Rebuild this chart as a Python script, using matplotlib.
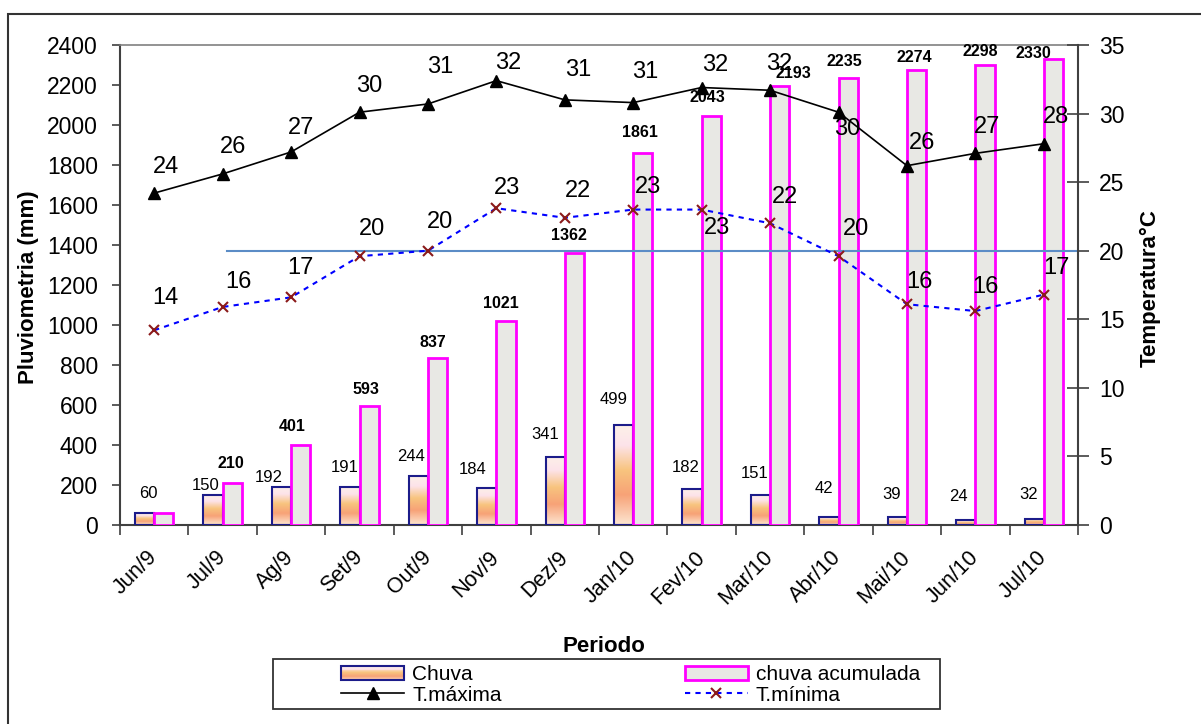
import numpy as np
import matplotlib
matplotlib.use('Agg')
import matplotlib.pyplot as plt
from matplotlib.colors import LinearSegmentedColormap
from matplotlib.patches import Rectangle
from matplotlib.lines import Line2D
from matplotlib.legend_handler import HandlerBase

plt.rcParams['font.family'] = ['Liberation Sans', 'DejaVu Sans']

# ---------------- data ----------------
periodos = ['Jun/9', 'Jul/9', 'Ag/9', 'Set/9', 'Out/9', 'Nov/9', 'Dez/9',
            'Jan/10', 'Fev/10', 'Mar/10', 'Abr/10', 'Mai/10', 'Jun/10', 'Jul/10']
chuva = [60, 150, 192, 191, 244, 184, 341, 499, 182, 151, 42, 39, 24, 32]
chuva_acumulada = [60, 210, 401, 593, 837, 1021, 1362, 1861, 2043, 2193,
                   2235, 2274, 2298, 2330]
t_maxima = [24.2, 25.6, 27.2, 30.1, 30.7, 32.4, 31.0, 30.8, 31.9, 31.7,
            30.1, 26.2, 27.1, 27.8]
t_minima = [14.2, 15.9, 16.6, 19.6, 20.0, 23.1, 22.4, 23.0, 23.0, 22.0,
            19.6, 16.1, 15.6, 16.8]
temp_referencia = 20
ref_inicio = 1.06   # category index where the reference line starts

left_ticks = list(range(0, 2401, 200))
right_ticks = list(range(0, 36, 5))

# ---------------- label offsets (pixels) ----------------
chuva_dx = [4, -7, -13, -5, -7, -14, -10, -10, -6, -6, -5, -6, -7, -6]
chuva_dy = [19, 10, 9, 19, 20, 19, 22, 26, 21, 21, 28, 23, 24, 24]
acum_dx = [0, -1, -8, -3, -5, -5, -5, -3, -4, 14, -4, -2, -5, -20]
acum_dy = [0, 20, 18, 17, 15, 17, 17, 20, 19, 13, 16, 13, 14, 6]
tmax_dx = [12, 10, 10, 10, 12, 12, 13, 12, 14, 9, 9, 15, 12, 12]
tmax_dy = [26, 27, 24, 26, 37, 18, 30, 31, 23, 26, -17, 23, 26, 27]
tmin_dx = [11, 16, 9, 12, 12, 11, 13, 15, 15, 15, 18, 13, 10, 13]
tmin_dy = [32, 25, 29, 27, 29, 20, 27, 23, -18, 26, 27, 22, 24, 27]

W, H = 1201, 724
fig = plt.figure(figsize=(W / 100, H / 100), dpi=100)
fig.patch.set_facecolor('white')

ax = fig.add_axes([120 / W, 1 - 525 / H, (1078 - 120) / W, (525 - 45) / H])
ax2 = ax.twinx()

x = np.arange(len(periodos))
bw = 0.28
navy = '#1c1c8a'
magenta = '#ff00ff'

grad_cmap = LinearSegmentedColormap.from_list(
    'chuva', [(0.0, '#fde6d2'), (0.3, '#f7a277'), (0.55, '#f8c47e'),
              (0.8, '#fde3ea'), (1.0, '#fcf0e8')])

# rain bars (gradient fill)
bars_c = ax.bar(x, chuva, width=bw, align='edge', facecolor='none',
                edgecolor=navy, linewidth=1.5, zorder=3)
grad = np.linspace(0, 1, 128).reshape(-1, 1)
for b in bars_c:
    b.set_x(b.get_x() - bw)
for b in bars_c:
    x0 = b.get_x()
    ax.imshow(grad, extent=[x0, x0 + bw, 0, b.get_height()], origin='lower',
              aspect='auto', cmap=grad_cmap, zorder=2, interpolation='bilinear')

# accumulated bars
bars_a = ax.bar(x, chuva_acumulada, width=bw, align='edge', facecolor='#e8e8e4',
                edgecolor=magenta, linewidth=2, zorder=3)

ax.set_xlim(-0.5, len(periodos) - 0.5)
ax.set_ylim(0, 2400)
ax.set_aspect('auto')

# bar labels
for b, v, dx, dy in zip(bars_c, chuva, chuva_dx, chuva_dy):
    ax.annotate(f'{v}', (b.get_x() + bw / 2, v), xytext=(dx, dy),
                textcoords='offset pixels', ha='center', va='center',
                fontsize=12, zorder=5)
for i, (b, v, dx, dy) in enumerate(zip(bars_a, chuva_acumulada, acum_dx, acum_dy)):
    if i == 0:
        continue
    ax.annotate(f'{v}', (b.get_x() + bw / 2, v), xytext=(dx, dy),
                textcoords='offset pixels', ha='center', va='center',
                fontsize=11.5, fontweight='bold', zorder=5)

# temperature lines
ax2.plot([ref_inicio, len(periodos) - 0.5], [temp_referencia, temp_referencia],
         color='#5b8cc6', lw=1.5, zorder=2)
ax2.plot(x, t_maxima, color='black', lw=1.2, marker='^', markersize=8,
         markerfacecolor='black', zorder=4)
ax2.plot(x, t_minima, color='#0000ff', lw=1.5, linestyle=(0, (2.5, 2.5)),
         marker='x', markersize=7, markeredgecolor='#8b1a1a',
         markeredgewidth=1.5, zorder=4)
ax2.set_ylim(0, 35)
ax2.set_xlim(-0.5, len(periodos) - 0.5)

for xi, v, dx, dy in zip(x, t_maxima, tmax_dx, tmax_dy):
    ax2.annotate(f'{v:.0f}', (xi, v), xytext=(dx, dy), textcoords='offset pixels',
                 ha='center', va='center', fontsize=17, zorder=6)
for xi, v, dx, dy in zip(x, t_minima, tmin_dx, tmin_dy):
    ax2.annotate(f'{v:.0f}', (xi, v), xytext=(dx, dy), textcoords='offset pixels',
                 ha='center', va='center', fontsize=17, zorder=6)

# axes styling
ax.set_yticks(left_ticks)
ax.set_yticklabels([str(t) for t in left_ticks], fontsize=16.5)
ax.tick_params(axis='y', direction='out', length=6, width=1.2, pad=10,
               colors='#404040', labelcolor='black')
ax.set_xticks(x)
ax.set_xticklabels(periodos, rotation=45, ha='right', va='center',
                   rotation_mode='anchor', fontsize=15.5)
ax.tick_params(axis='x', which='major', length=0, pad=21)
ax.set_xticks(np.arange(-0.5, len(periodos), 1), minor=True)
ax.tick_params(axis='x', which='minor', direction='out', length=7, width=1.2,
               colors='#404040')

ax2.set_yticks(right_ticks)
ax2.set_yticklabels([str(t) for t in right_ticks], fontsize=16.5)
ax2.tick_params(axis='y', direction='inout', length=16, width=1.2, pad=7,
                colors='#404040', labelcolor='black')

for s in ['left', 'bottom']:
    ax.spines[s].set_color('#404040')
    ax.spines[s].set_linewidth(1.5)
ax.spines['top'].set_color('#808080')
ax.spines['top'].set_linewidth(1.2)
ax.spines['right'].set_visible(False)
ax2.spines['right'].set_color('#404040')
ax2.spines['right'].set_linewidth(1.5)
for s in ['left', 'bottom', 'top']:
    ax2.spines[s].set_visible(False)

# axis titles
fig.text(29 / W, 1 - 287 / H, 'Pluviometria (mm)', rotation=90, ha='center',
         va='center', fontsize=16, fontweight='bold')
fig.text(1150 / W, 1 - 288 / H, 'Temperatura°C', rotation=90, ha='center',
         va='center', fontsize=16, fontweight='bold')
fig.text(604 / W, 1 - 647 / H, 'Periodo', ha='center', va='center',
         fontsize=16, fontweight='bold')


# legend
class GradHandler(HandlerBase):
    def create_artists(self, legend, orig_handle, xdescent, ydescent,
                       width, height, fontsize, trans):
        arts = []
        n = 16
        for i in range(n):
            arts.append(Rectangle((-xdescent, -ydescent + height * i / n),
                                  width, height / n * 1.05,
                                  facecolor=grad_cmap((i + 0.5) / n),
                                  edgecolor='none', transform=trans))
        arts.append(Rectangle((-xdescent, -ydescent), width, height,
                              facecolor='none', edgecolor=navy, lw=1.5,
                              transform=trans))
        return arts


h_chuva = Rectangle((0, 0), 1, 1)
h_acum = Rectangle((0, 0), 1, 1, facecolor='#e8e8e4', edgecolor=magenta, lw=2)
h_tmax = Line2D([], [], color='black', lw=1.2, marker='^', markersize=8)
h_tmin = Line2D([], [], color='#0000ff', lw=1.5, linestyle=(0, (2.5, 2.5)),
                marker='x', markersize=7, markeredgecolor='#8b1a1a',
                markeredgewidth=1.5)
leg = fig.legend([h_chuva, h_tmax, h_acum, h_tmin],
                 ['Chuva', 'T.máxima', 'chuva acumulada', 'T.mínima'],
                 ncol=2, loc='center left',
                 bbox_to_anchor=(331 / W, 1 - 685 / H),
                 frameon=False, fontsize=15, borderpad=0, handlelength=3.0,
                 handletextpad=0.4, columnspacing=8.8, labelspacing=0.05,
                 handler_map={h_chuva: GradHandler()})
fig.patches.append(Rectangle((273 / W, 1 - 709 / H), (940 - 273) / W, 50 / H,
                             transform=fig.transFigure, facecolor='none',
                             edgecolor='#333333', lw=1.3))

# outer frame (left and top edges visible)
fig.patches.append(Rectangle((8 / W, -0.1), 1.2, 1.1 - 14 / H,
                             transform=fig.transFigure, facecolor='none',
                             edgecolor='#333333', lw=1.5))

fig.savefig('out.png', dpi=100)
